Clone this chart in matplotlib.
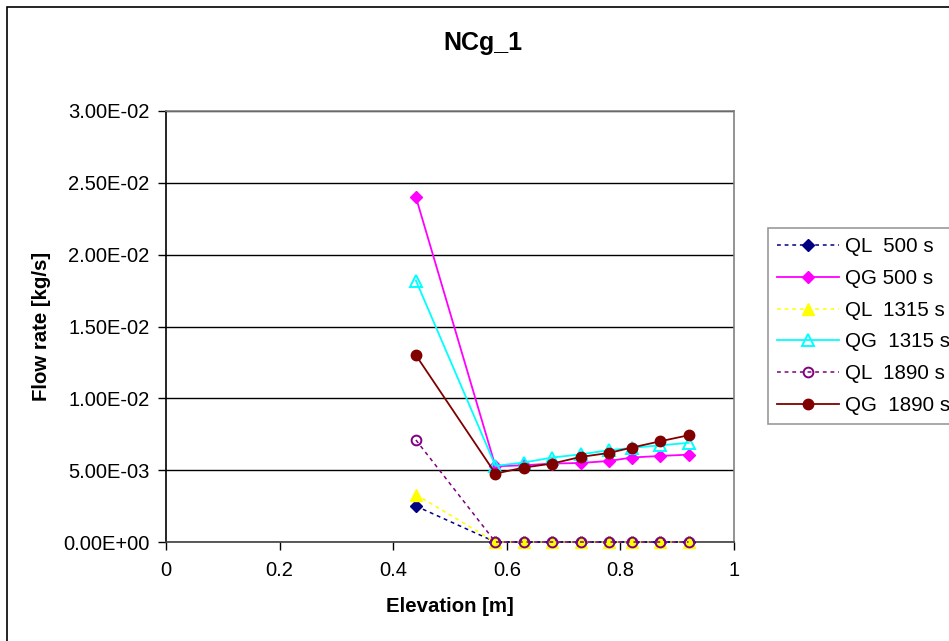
import numpy as np
import matplotlib
matplotlib.use('Agg')
import matplotlib.pyplot as plt
from matplotlib.patches import Rectangle
from matplotlib.ticker import FuncFormatter

plt.rcParams['font.family'] = ['Liberation Sans', 'DejaVu Sans']

# elevation [m]
elev = [0.44, 0.58, 0.63, 0.68, 0.73, 0.78, 0.82, 0.87, 0.92]

# flow rates [kg/s]
ql_500 = [0.0025, 0, 0, 0, 0, 0, 0, 0, 0]
qg_500 = [0.0240, 0.00527, 0.00534, 0.00546, 0.00550, 0.00564, 0.00588, 0.00599, 0.00608]
ql_1315 = [0.0033, 0, 0, 0, 0, 0, 0, 0, 0]
qg_1315 = [0.0182, 0.00530, 0.00553, 0.00588, 0.00610, 0.00639, 0.00655, 0.00673, 0.00690]
ql_1890 = [0.0071, 0, 0, 0, 0, 0, 0, 0, 0]
qg_1890 = [0.0130, 0.00476, 0.00518, 0.00546, 0.00592, 0.00620, 0.00657, 0.00701, 0.00743]

labels = ['QL  500 s', 'QG 500 s', 'QL  1315 s', 'QG  1315 s', 'QL  1890 s', 'QG  1890 s']

W, H = 949, 641
fig = plt.figure(figsize=(W/100, H/100), dpi=100)
fig.patch.set_facecolor('white')

# outer chart border (runs off the right and bottom edge)
fig.patches.append(Rectangle((7/W, -0.1), 1.2, 1 - 7/H + 0.1, transform=fig.transFigure,
                             fill=False, edgecolor='black', linewidth=1.2))

ax = fig.add_axes([166/W, 1 - 542/H, (734-166)/W, (542-111)/H])

dash = (2.5, 2.5)
ax.plot(elev, ql_500, color='#000080', lw=1.1, linestyle=(0, dash), marker='D', ms=6,
        label=labels[0], clip_on=False, zorder=3)
ax.plot(elev, qg_500, color='#FF00FF', lw=1.3, marker='D', ms=6.5,
        label=labels[1], clip_on=False, zorder=3)
ax.plot(elev, ql_1315, color='#FFFF00', lw=1.1, linestyle=(0, dash), marker='^', ms=8,
        label=labels[2], clip_on=False, zorder=3)
ax.plot(elev, qg_1315, color='#00FFFF', lw=1.3, marker='^', ms=8, mfc='none', mew=1.4,
        label=labels[3], clip_on=False, zorder=3)
ax.plot(elev, ql_1890, color='#800080', lw=1.1, linestyle=(0, dash), marker='o', ms=7, mfc='none', mew=1.4,
        label=labels[4], clip_on=False, zorder=3)
ax.plot(elev, qg_1890, color='#800000', lw=1.3, marker='o', ms=7.5,
        label=labels[5], clip_on=False, zorder=3)

ax.set_xlim(0, 1)
ax.set_ylim(0, 0.03)
ax.set_xticks([0, 0.2, 0.4, 0.6, 0.8, 1])
ax.set_yticks(np.arange(0, 0.0301, 0.005))
ax.xaxis.set_major_formatter(FuncFormatter(lambda v, p: '%g' % v))
ax.yaxis.set_major_formatter(FuncFormatter(lambda v, p: '%.2E' % v))
ax.tick_params(direction='out', length=6, width=1, labelsize=14.5, color='black')
ax.tick_params(axis='y', pad=6)
ax.tick_params(axis='x', pad=8)

ax.grid(axis='y', color='black', linewidth=1)
ax.set_axisbelow(True)
ax.spines['left'].set_color('black')
ax.spines['bottom'].set_color('#404040')
ax.spines['top'].set_color('#808080')
ax.spines['right'].set_color('#808080')
for s in ax.spines.values():
    s.set_linewidth(1.2)

fig.text(483/W, 1 - 43/H, 'NCg_1', fontsize=18, fontweight='bold', ha='center', va='center')
fig.text(450/W, 1 - 607/H, 'Elevation [m]', fontsize=14.7, fontweight='bold', ha='center', va='center')
fig.text(42/W, 1 - 326/H, 'Flow rate [kg/s]', fontsize=14.7, fontweight='bold', ha='center',
         va='center', rotation=90)

leg = fig.legend(loc='upper left', bbox_to_anchor=(768/W, 1 - 228/H), bbox_transform=fig.transFigure,
                 fontsize=14.8, frameon=True, fancybox=False, edgecolor='#808080', borderaxespad=0,
                 handlelength=3.0, handletextpad=0.3, labelspacing=0.62, borderpad=0.45)
leg.get_frame().set_linewidth(1.2)

plt.savefig('out.png', dpi=100)
